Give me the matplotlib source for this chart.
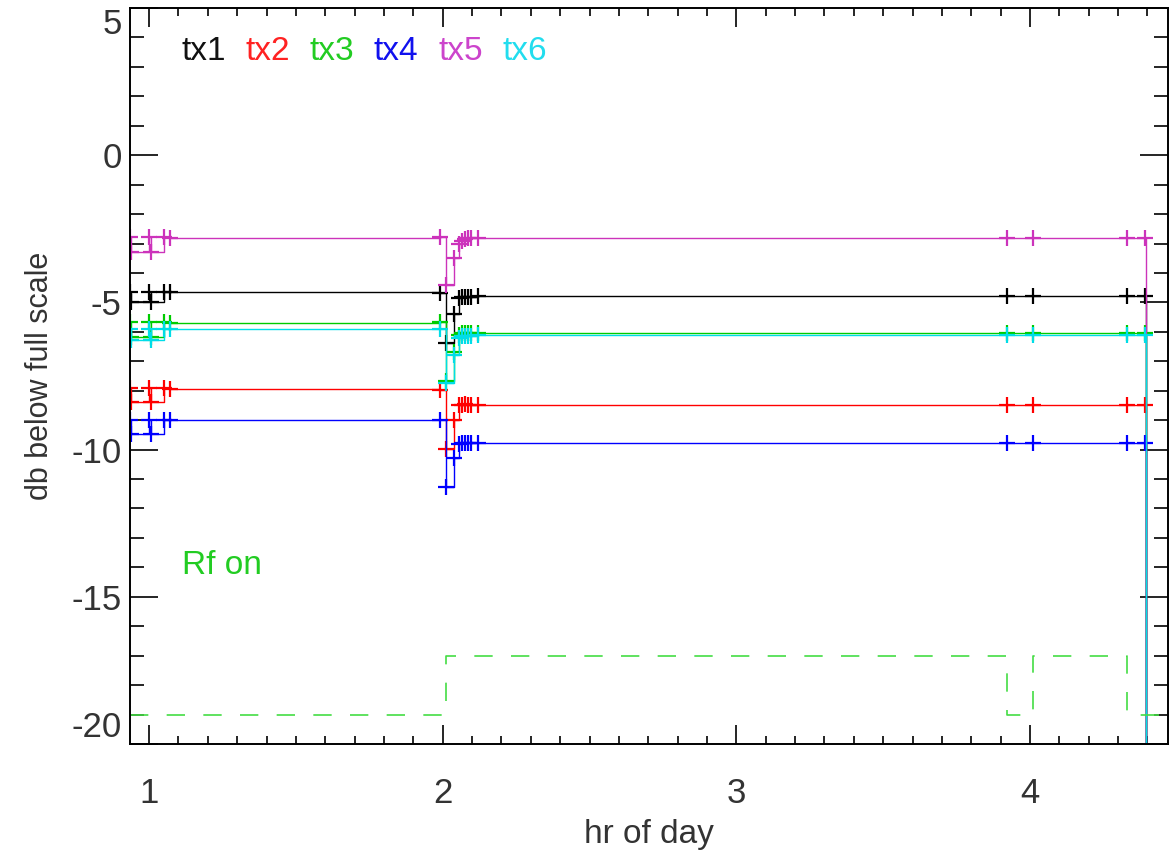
import numpy as np
import matplotlib
matplotlib.use("Agg")
from matplotlib import pyplot as plt
from matplotlib.ticker import MultipleLocator
from matplotlib.offsetbox import TextArea, HPacker, AnchoredOffsetbox

plt.rcParams['font.family'] = ['Liberation Sans', 'DejaVu Sans']
plt.rcParams['axes.unicode_minus'] = False

# sample times (hr of day)
t = [0.935, 0.94, 1.0, 1.005, 1.05, 1.07,
     1.99, 2.01, 2.04, 2.055, 2.065, 2.075, 2.085, 2.095, 2.12,
     3.92, 4.01, 4.33, 4.39, 4.395]

# levels, db below full scale
tx1 = [-4.63, -5.0, -4.63, -5.0, -4.63, -4.66,
       -4.68, -6.37, -5.39, -4.85, -4.8, -4.8, -4.8, -4.8, -4.79,
       -4.79, -4.79, -4.79, -4.79, -30]
tx2 = [-7.9, -8.4, -7.9, -8.4, -7.9, -7.95,
       -7.99, -9.97, -8.98, -8.5, -8.47, -8.45, -8.47, -8.47, -8.47,
       -8.47, -8.47, -8.47, -8.47, -30]
tx3 = [-5.67, -6.19, -5.67, -6.19, -5.67, -5.7,
       -5.68, -7.68, -6.7, -6.1, -6.05, -6.05, -6.05, -6.05, -6.05,
       -6.03, -6.03, -6.03, -6.03, -30]
tx4 = [-8.98, -9.47, -8.98, -9.47, -8.98, -9.0,
       -8.98, -11.28, -10.27, -9.8, -9.76, -9.76, -9.76, -9.76, -9.77,
       -9.77, -9.77, -9.77, -9.77, -30]
tx5 = [-2.78, -3.29, -2.78, -3.29, -2.78, -2.8,
       -2.78, -4.41, -3.49, -3.0, -2.9, -2.85, -2.8, -2.8, -2.8,
       -2.8, -2.8, -2.8, -2.8, -30]
tx6 = [-5.89, -6.27, -5.89, -6.27, -5.89, -5.9,
       -5.89, -7.73, -6.78, -6.2, -6.15, -6.13, -6.13, -6.13, -6.12,
       -6.12, -6.12, -6.12, -6.12, -30]

names = ['tx1', 'tx2', 'tx3', 'tx4', 'tx5', 'tx6']
colors = ['#000000', '#ff0000', '#00cc00', '#0000ff', '#cc33bb', '#00dde8']
text_colors = ['#111111', '#ff2222', '#22cc22', '#1111ee', '#cc44cc', '#22ddee']

# rf on indicator
rf_t = [0.935, 2.01, 3.92, 4.01, 4.33, 4.47]
rf_level = [-19, -17, -19, -17, -19, -19]

fig = plt.figure(figsize=(11.7, 8.61), dpi=100)
ax = fig.add_axes([130/1170, 1-744/861, 1038/1170, 736/861])

for vals, c in zip([tx1, tx2, tx3, tx4, tx5, tx6], colors):
    ax.plot(t, vals, color=c, lw=1, drawstyle='steps-post')
    ax.plot(t, vals, ls='none', marker='+', ms=12, mew=1.6, color=c)

ax.plot(rf_t, rf_level, color='#44dd44', lw=1.2, drawstyle='steps-post',
        dashes=(11, 11))

ax.set_xlim(0.935, 4.47)
ax.set_ylim(-20, 5)
ax.set_xticks([1, 2, 3, 4])
ax.set_yticks([-20, -15, -10, -5, 0, 5])
ax.xaxis.set_minor_locator(MultipleLocator(0.1))
ax.yaxis.set_minor_locator(MultipleLocator(1))
ax.tick_params(axis='x', which='major', direction='in', length=14, width=1.2,
               top=True, pad=24, labelsize=25, labelcolor='#333333')
ax.tick_params(axis='x', which='minor', direction='in', length=6, width=1.2, top=True)
ax.tick_params(axis='y', which='major', direction='in', length=20, width=1.2,
               right=True, pad=6, labelsize=25, labelcolor='#333333')
ax.tick_params(axis='y', which='minor', direction='in', length=10, width=1.2, right=True)
ticks = ax.yaxis.get_major_ticks()
ticks[0].label1.set_va('bottom')
ticks[-1].label1.set_va('top')
for s in ax.spines.values():
    s.set_linewidth(1.4)

ax.set_xlabel('hr of day', fontsize=24, color='#333333', labelpad=6)
ax.set_ylabel('db below full scale', fontsize=22, color='#333333', labelpad=12)

areas = [TextArea(n, textprops=dict(color=c, fontsize=24)) for n, c in zip(names, text_colors)]
box = HPacker(children=areas, align='baseline', pad=0, sep=14)
anch = AnchoredOffsetbox(loc='center left', child=box, pad=0, frameon=False,
                         bbox_to_anchor=(52/1038, 1-43/736), bbox_transform=ax.transAxes,
                         borderpad=0)
ax.add_artist(anch)

ax.text(52/1038, 1-(565-8)/736, 'Rf on', transform=ax.transAxes, color='#22cc22',
        fontsize=24, ha='left', va='center')

fig.savefig('out.png', dpi=100)
